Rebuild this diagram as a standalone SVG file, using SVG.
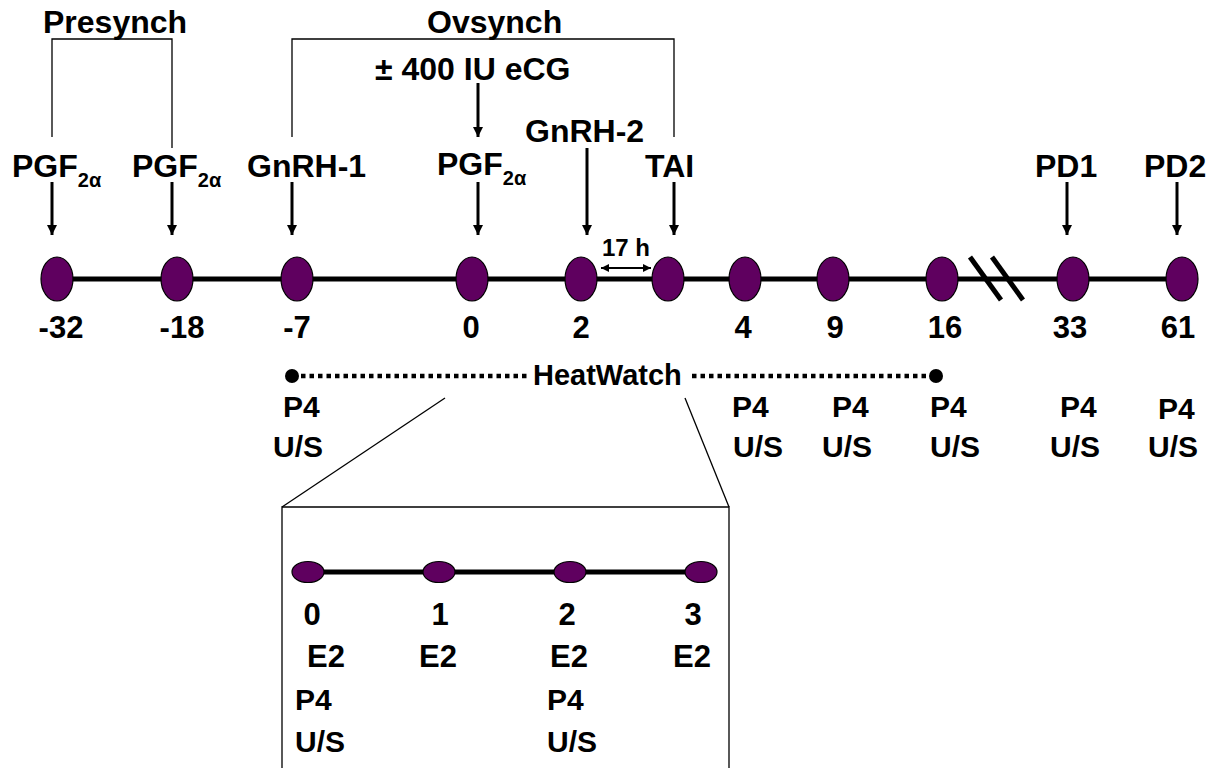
<svg xmlns="http://www.w3.org/2000/svg" width="1222" height="768" viewBox="0 0 1222 768">
  <style>
    text { font-family: "Liberation Sans", Arial, sans-serif; font-weight: bold; fill: #000; }
    .lbl { font-size: 32px; }
    .sub { font-size: 20px; }
    .day { font-size: 31px; text-anchor: middle; }
    .meas { font-size: 30px; }
    .small { font-size: 24px; text-anchor: middle; }
    .node { fill: #5f005f; stroke: #000; stroke-width: 1.2; }
    .axis { stroke: #000; stroke-width: 5; fill: none; }
    .thin { stroke: #000; stroke-width: 1.3; fill: none; }
    .arrow { stroke: #000; stroke-width: 3; fill: none; marker-end: url(#head); }
    .dots { stroke: #000; stroke-width: 4.5; stroke-dasharray: 4.5 4; fill: none; }
  </style>
  <defs>
    <marker id="head" markerUnits="userSpaceOnUse" markerWidth="12" markerHeight="12" refX="10" refY="5" orient="auto">
      <path d="M0,0 L10,5 L0,10 Z" fill="#000"/>
    </marker>
    <marker id="headS" markerUnits="userSpaceOnUse" markerWidth="10" markerHeight="10" refX="8" refY="4" orient="auto-start-reverse">
      <path d="M0,0 L8,4 L0,8 Z" fill="#000"/>
    </marker>
  </defs>

  <rect width="1222" height="768" fill="#fff"/>

  <!-- program brackets -->
  <g id="presynch">
    <text class="lbl" x="43" y="33">Presynch</text>
    <path class="thin" d="M52,137 V39 H172 V148"/>
  </g>
  <g id="ovsynch">
    <text class="lbl" x="427" y="33">Ovsynch</text>
    <path class="thin" d="M292,137 V39 H674 V137"/>
  </g>

  <!-- main timeline axis and connectors -->
  <g id="connectors">
    <line class="axis" x1="57" y1="279" x2="1182" y2="279"/>
    <line x1="970" y1="257" x2="1001" y2="300" stroke="#000" stroke-width="5"/>
    <line x1="992" y1="257" x2="1023" y2="300" stroke="#000" stroke-width="5"/>
    <line class="arrow" x1="52" y1="182" x2="52" y2="235"/>
    <line class="arrow" x1="172" y1="182" x2="172" y2="235"/>
    <line class="arrow" x1="292" y1="182" x2="292" y2="235"/>
    <line class="arrow" x1="478" y1="83" x2="478" y2="137"/>
    <line class="arrow" x1="478" y1="182" x2="478" y2="235"/>
    <line class="arrow" x1="587" y1="148" x2="587" y2="235"/>
    <line class="arrow" x1="674" y1="182" x2="674" y2="235"/>
    <line class="arrow" x1="1067" y1="182" x2="1067" y2="235"/>
    <line class="arrow" x1="1177" y1="182" x2="1177" y2="235"/>
    <line x1="601" y1="268" x2="651" y2="268" stroke="#000" stroke-width="2" marker-start="url(#headS)" marker-end="url(#headS)"/>
    <!-- HeatWatch monitoring span -->
    <line class="dots" x1="301" y1="376" x2="529" y2="376"/>
    <line class="dots" x1="692" y1="376" x2="930" y2="376"/>
    <circle cx="292" cy="376" r="7" fill="#000"/>
    <circle cx="936" cy="376" r="7" fill="#000"/>
    <!-- zoom box for days 0-3 -->
    <line class="thin" x1="282" y1="507" x2="445" y2="398"/>
    <line class="thin" x1="729" y1="507" x2="685" y2="398"/>
    <path class="thin" d="M282,770 V507 H729 V770"/>
    <line class="axis" x1="308" y1="572" x2="701" y2="572"/>
  </g>

  <text class="lbl" x="533" y="385" style="font-size:29px">HeatWatch</text>
  <text class="small" x="626" y="256">17 h</text>

  <!-- main timeline nodes -->
  <g id="d-32">
    <text class="lbl" x="12" y="177">PGF<tspan class="sub" dy="10">2α</tspan></text>
    <ellipse class="node" cx="57" cy="279" rx="16" ry="22"/>
    <text class="day" x="61" y="338">-32</text>
  </g>
  <g id="d-18">
    <text class="lbl" x="132" y="177">PGF<tspan class="sub" dy="10">2α</tspan></text>
    <ellipse class="node" cx="177" cy="279" rx="16" ry="22"/>
    <text class="day" x="182" y="338">-18</text>
  </g>
  <g id="d-7">
    <text class="lbl" x="247" y="177">GnRH-1</text>
    <ellipse class="node" cx="297" cy="279" rx="16" ry="22"/>
    <text class="day" x="297" y="338">-7</text>
    <text class="meas" x="283" y="417">P4</text>
    <text class="meas" x="273" y="457">U/S</text>
  </g>
  <g id="d0">
    <text class="lbl" x="375" y="80">± 400 IU eCG</text>
    <text class="lbl" x="437" y="175">PGF<tspan class="sub" dy="10">2α</tspan></text>
    <ellipse class="node" cx="472" cy="279" rx="16" ry="22"/>
    <text class="day" x="471" y="338">0</text>
  </g>
  <g id="d2">
    <text class="lbl" x="525" y="142">GnRH-2</text>
    <ellipse class="node" cx="581" cy="279" rx="16" ry="22"/>
    <text class="day" x="581" y="338">2</text>
  </g>
  <g id="tai">
    <text class="lbl" x="645" y="177">TAI</text>
    <ellipse class="node" cx="668" cy="279" rx="16" ry="22"/>
  </g>
  <g id="d4">
    <ellipse class="node" cx="745" cy="279" rx="16" ry="22"/>
    <text class="day" x="743" y="338">4</text>
    <text class="meas" x="732" y="417">P4</text>
    <text class="meas" x="733" y="457">U/S</text>
  </g>
  <g id="d9">
    <ellipse class="node" cx="833" cy="279" rx="16" ry="22"/>
    <text class="day" x="835" y="338">9</text>
    <text class="meas" x="832" y="417">P4</text>
    <text class="meas" x="822" y="457">U/S</text>
  </g>
  <g id="d16">
    <ellipse class="node" cx="942" cy="279" rx="16" ry="22"/>
    <text class="day" x="945" y="338">16</text>
    <text class="meas" x="930" y="417">P4</text>
    <text class="meas" x="930" y="457">U/S</text>
  </g>
  <g id="d33">
    <text class="lbl" x="1035" y="177">PD1</text>
    <ellipse class="node" cx="1073" cy="279" rx="16" ry="22"/>
    <text class="day" x="1070" y="338">33</text>
    <text class="meas" x="1060" y="417">P4</text>
    <text class="meas" x="1050" y="457">U/S</text>
  </g>
  <g id="d61">
    <text class="lbl" x="1144" y="177">PD2</text>
    <ellipse class="node" cx="1182" cy="279" rx="16" ry="22"/>
    <text class="day" x="1178" y="338">61</text>
    <text class="meas" x="1158" y="419">P4</text>
    <text class="meas" x="1148" y="457">U/S</text>
  </g>

  <!-- inset: days 0 to 3 -->
  <g id="i0">
    <ellipse class="node" cx="308" cy="572" rx="16" ry="10.5"/>
    <text class="day" x="312" y="625">0</text>
    <text class="day" x="326" y="667">E2</text>
    <text class="meas" x="295" y="710">P4</text>
    <text class="meas" x="295" y="752">U/S</text>
  </g>
  <g id="i1">
    <ellipse class="node" cx="439" cy="572" rx="16" ry="10.5"/>
    <text class="day" x="440" y="625">1</text>
    <text class="day" x="438" y="667">E2</text>
  </g>
  <g id="i2">
    <ellipse class="node" cx="570" cy="572" rx="16" ry="10.5"/>
    <text class="day" x="567" y="625">2</text>
    <text class="day" x="569" y="667">E2</text>
    <text class="meas" x="547" y="710">P4</text>
    <text class="meas" x="547" y="752">U/S</text>
  </g>
  <g id="i3">
    <ellipse class="node" cx="701" cy="572" rx="16" ry="10.5"/>
    <text class="day" x="693" y="625">3</text>
    <text class="day" x="692" y="667">E2</text>
  </g>
</svg>
